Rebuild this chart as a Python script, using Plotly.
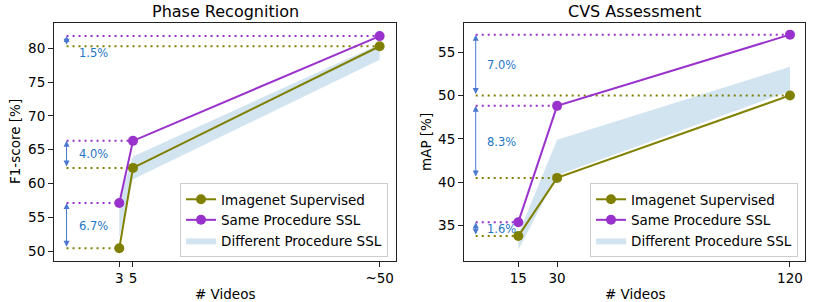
import plotly.graph_objects as go

# ---------------- data ----------------
# Phase Recognition (left)
phase_ticklabels = ["3", "5", "~50"]
phase_x = [3, 5, 41]          # plotted positions of the three video counts
phase_imagenet = [50.4, 62.3, 80.3]
phase_same_ssl = [57.1, 66.3, 81.8]
phase_diff_low = [52.0, 60.6, 78.3]
phase_diff_high = [57.5, 64.0, 80.6]

# CVS Assessment (right)
cvs_ticklabels = ["15", "30", "120"]
cvs_x = [15, 30, 120]
cvs_imagenet = [33.8, 40.5, 50.0]
cvs_same_ssl = [35.4, 48.8, 57.0]
cvs_diff_low = [32.2, 40.8, 50.5]
cvs_diff_high = [34.0, 44.9, 53.3]

OLIVE = "#808000"
PURPLE = "#9932cc"
BAND = "rgba(31,119,180,0.2)"
ARROW = "#4a78d0"
TXT = "#1f77c4"
FONT = "DejaVu Sans"

W, H = 830, 302
fig = go.Figure()

panels = [
    dict(xa="x", ya="y", legend="legend", x=phase_x, imn=phase_imagenet, ssl=phase_same_ssl,
         lo=phase_diff_low, hi=phase_diff_high, xstart=-4.7, txtx=-3.2,
         below=[False, False, True]),
    dict(xa="x2", ya="y2", legend="legend2", x=cvs_x, imn=cvs_imagenet, ssl=cvs_same_ssl,
         lo=cvs_diff_low, hi=cvs_diff_high, xstart=-1.45, txtx=2.1,
         below=[False, False, False]),
]

annotations = []
for p in panels:
    xs = p["x"]
    # band
    fig.add_trace(go.Scatter(
        x=xs + xs[::-1], y=p["lo"] + p["hi"][::-1], fill="toself", fillcolor=BAND,
        line=dict(width=0), mode="lines", name="Different Procedure SSL",
        xaxis=p["xa"], yaxis=p["ya"], legend=p["legend"], legendrank=3, hoverinfo="skip"))
    # dotted reference lines
    for xv, a, b in zip(xs, p["imn"], p["ssl"]):
        fig.add_trace(go.Scatter(x=[p["xstart"], xv], y=[a, a], mode="lines",
                                 line=dict(color=OLIVE, width=2, dash="2px,4px"),
                                 showlegend=False, xaxis=p["xa"], yaxis=p["ya"], hoverinfo="skip"))
        fig.add_trace(go.Scatter(x=[p["xstart"], xv], y=[b, b], mode="lines",
                                 line=dict(color=PURPLE, width=2, dash="2px,4px"),
                                 showlegend=False, xaxis=p["xa"], yaxis=p["ya"], hoverinfo="skip"))
    fig.add_trace(go.Scatter(x=xs, y=p["imn"], mode="lines+markers", name="Imagenet Supervised",
                             line=dict(color=OLIVE, width=2), marker=dict(color=OLIVE, size=10),
                             xaxis=p["xa"], yaxis=p["ya"], legend=p["legend"], legendrank=1))
    fig.add_trace(go.Scatter(x=xs, y=p["ssl"], mode="lines+markers", name="Same Procedure SSL",
                             line=dict(color=PURPLE, width=2), marker=dict(color=PURPLE, size=10),
                             xaxis=p["xa"], yaxis=p["ya"], legend=p["legend"], legendrank=2))
    # arrows and gain labels
    for a, b, below in zip(p["imn"], p["ssl"], p["below"]):
        annotations.append(dict(x=p["xstart"], y=b, ax=p["xstart"], ay=a, xref=p["xa"], yref=p["ya"],
                                axref=p["xa"], ayref=p["ya"], text="", showarrow=True,
                                arrowhead=2, arrowside="end+start", arrowsize=1.2, arrowwidth=1,
                                arrowcolor=ARROW, standoff=0, startstandoff=0))
        ty = a - 1.0 if below else (a + b) / 2
        annotations.append(dict(x=p["txtx"], y=ty, xref=p["xa"], yref=p["ya"], text=f"{b - a:.1f}%",
                                showarrow=False, xanchor="left", yanchor="middle",
                                font=dict(family=FONT, size=11.5, color=TXT)))

# titles and axis labels
def px(x):
    return x / W

def py(y):
    return 1 - y / H

for text, x, y, size, angle in [
    ("Phase Recognition", 225, 12, 16, 0), ("CVS Assessment", 634.5, 12, 16, 0),
    ("# Videos", 225, 294, 13.5, 0), ("# Videos", 634.5, 294, 13.5, 0),
    ("F1-score [%]", 15, 142, 13.5, -90), ("mAP [%]", 426, 142, 13.5, -90)]:
    annotations.append(dict(x=px(x), y=py(y), xref="paper", yref="paper", text=text, showarrow=False,
                            xanchor="center", yanchor="middle", textangle=angle,
                            font=dict(family=FONT, size=size, color="black")))

axis_common = dict(showline=True, linecolor="#222", linewidth=1, mirror=True, ticks="outside",
                   ticklen=5, tickwidth=1, tickcolor="#222", showgrid=False, zeroline=False,
                   tickfont=dict(family=FONT, size=13.5, color="black"))

legend_common = dict(bgcolor="rgba(255,255,255,0.8)", bordercolor="#cccccc", borderwidth=1,
                     font=dict(family=FONT, size=13.5, color="black"), xanchor="right", yanchor="bottom",
                     traceorder="normal", itemwidth=30, tracegroupgap=0)

fig.update_layout(
    width=W, height=H, margin=dict(l=0, r=0, t=0, b=0), paper_bgcolor="white", plot_bgcolor="white",
    showlegend=True,
    xaxis=dict(domain=[px(54), px(396)], range=[-6.53, 43.39], tickmode="array",
               tickvals=phase_x, ticktext=phase_ticklabels, anchor="y", **axis_common),
    yaxis=dict(domain=[py(261), py(23)], range=[48.52, 83.74], tickvals=[50, 55, 60, 65, 70, 75, 80],
               anchor="x", **axis_common),
    xaxis2=dict(domain=[px(464), px(805)], range=[-5.98, 125.8], tickmode="array",
                tickvals=cvs_x, ticktext=cvs_ticklabels, anchor="y2", **axis_common),
    yaxis2=dict(domain=[py(261), py(23)], range=[30.93, 58.34], tickvals=[35, 40, 45, 50, 55],
                anchor="x2", **axis_common),
    legend=dict(x=px(388), y=py(257), **legend_common),
    legend2=dict(x=px(798), y=py(257), **legend_common),
    annotations=annotations,
)

fig.write_html("out.html", config={"displayModeBar": False},
               post_script="document.body.style.margin='0';document.body.style.padding='0';")
